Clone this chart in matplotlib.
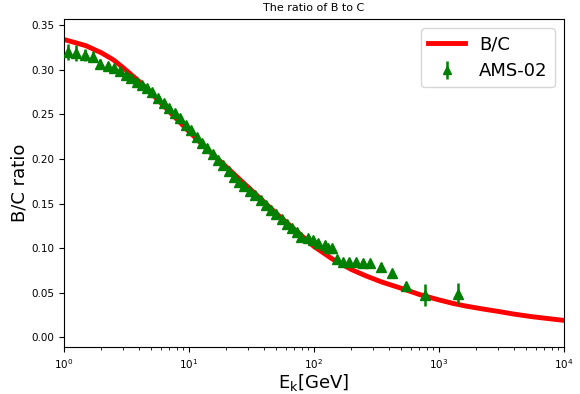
import matplotlib
matplotlib.use("Agg")
import matplotlib.pyplot as plt
from matplotlib.ticker import FormatStrFormatter

# Model curve B/C
model_E = [1, 1.5, 2, 2.5, 3, 4, 5, 7, 10, 15, 20, 30, 50, 70, 100, 140, 200, 260,
           350, 500, 700, 1000, 1300, 1650, 2200, 3000, 4000, 5650, 7500, 10000]
model_bc = [0.334, 0.327, 0.319, 0.311, 0.302, 0.287, 0.274, 0.253, 0.231, 0.207,
            0.191, 0.168, 0.139, 0.121, 0.102, 0.088, 0.076, 0.069, 0.062, 0.055,
            0.048, 0.042, 0.038, 0.035, 0.032, 0.029, 0.026, 0.023, 0.021, 0.019]

# AMS-02 data
ams_E = [1.08, 1.26, 1.47, 1.70, 1.94, 2.24, 2.51, 2.84, 3.13, 3.48, 3.86, 4.26,
         4.64, 5.12, 5.68, 6.31, 6.96, 7.73, 8.58, 9.46, 10.5, 11.6, 12.8, 14.1,
         15.6, 17.1, 18.9, 20.9, 23.0, 25.3, 27.9, 30.8, 34.0, 37.5, 41.3, 45.6,
         50.3, 55.4, 61.1, 67.4, 73.6, 79.7, 90.0, 98.7, 108, 122, 130, 141, 153,
         172, 192, 217, 248, 284, 344, 421, 545, 773, 1419]
ams_bc = [0.320, 0.319, 0.3165, 0.3146, 0.307, 0.3045, 0.3016, 0.2985, 0.294, 0.2903,
          0.2865, 0.2828, 0.2791, 0.2753, 0.268, 0.2623, 0.2567, 0.2511, 0.2455, 0.238,
          0.2324, 0.2245, 0.2175, 0.2125, 0.2055, 0.199, 0.193, 0.1865, 0.180, 0.1745,
          0.170, 0.164, 0.159, 0.1535, 0.1485, 0.143, 0.138, 0.133, 0.1275, 0.122,
          0.118, 0.1128, 0.1115, 0.109, 0.1053, 0.1034, 0.0997, 0.0997, 0.0874, 0.0848,
          0.0848, 0.0848, 0.0836, 0.083, 0.079, 0.0717, 0.0575, 0.0474, 0.049]
ams_err = [0.0093, 0.009, 0.007, 0.006, 0.005, 0.004, 0.004, 0.0035, 0.003, 0.003,
           0.003, 0.003, 0.003, 0.003, 0.003, 0.003, 0.003, 0.003, 0.003, 0.003,
           0.003, 0.003, 0.003, 0.003, 0.003, 0.003, 0.003, 0.003, 0.003, 0.003,
           0.003, 0.003, 0.003, 0.003, 0.003, 0.003, 0.003, 0.003, 0.003, 0.003,
           0.003, 0.003, 0.003, 0.003, 0.003, 0.003, 0.003, 0.003, 0.003, 0.003,
           0.003, 0.003, 0.003, 0.003, 0.004, 0.004, 0.005, 0.012, 0.012]

fig = plt.figure(figsize=(5.8, 3.94), dpi=100)
ax = fig.add_axes([0.110, 0.119, 0.862, 0.833])

ax.plot(model_E, model_bc, color="red", lw=3.5, label="B/C", zorder=2)
ax.errorbar(ams_E, ams_bc, yerr=ams_err, fmt="^", color="green", ms=7.5,
            elinewidth=1.8, label="AMS-02", zorder=3)

ax.set_xscale("log")
ax.set_xlim(1, 1e4)
ax.set_ylim(-0.011, 0.357)
ax.set_yticks([0.0, 0.05, 0.10, 0.15, 0.20, 0.25, 0.30, 0.35])
ax.yaxis.set_major_formatter(FormatStrFormatter("%.2f"))
ax.tick_params(labelsize=7.5)

ax.set_title("The ratio of B to C", fontsize=8)
ax.set_xlabel(r"E$_{\rm k}$[GeV]", fontsize=13, labelpad=1)
ax.set_ylabel("B/C ratio", fontsize=13, labelpad=2)
ax.legend(loc="upper right", fontsize=13, markerscale=0.8)

fig.savefig("out.png", dpi=100)
